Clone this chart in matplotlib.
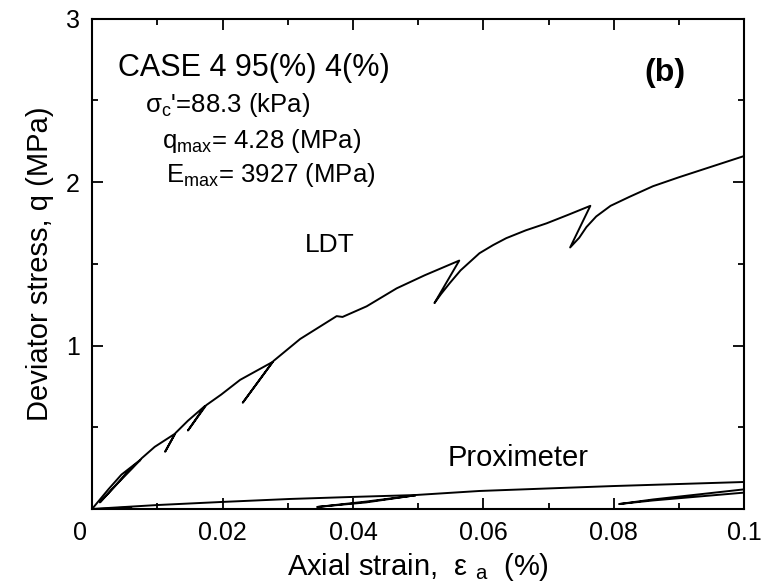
import matplotlib
matplotlib.use("Agg")
import matplotlib.pyplot as plt
import matplotlib.transforms as mtransforms
from matplotlib.ticker import MultipleLocator

plt.rcParams['font.family'] = ['Liberation Sans', 'DejaVu Sans']
plt.rcParams['mathtext.fontset'] = 'custom'
plt.rcParams['mathtext.rm'] = 'Liberation Sans'
plt.rcParams['mathtext.it'] = 'Liberation Sans'
plt.rcParams['mathtext.default'] = 'regular'

# LDT curve (strain %, q MPa) with unload/reload loops
ldt_x = [0, 0.0025, 0.0045, 0.0074, 0.0055, 0.0035, 0.0012, 0.0040, 0.0062, 0.0076,
         0.0096, 0.0127, 0.0112, 0.0128,
         0.0147, 0.0173, 0.0147, 0.0175,
         0.0198, 0.0227, 0.0277, 0.0231, 0.0278,
         0.0319, 0.0375, 0.0384, 0.0421, 0.0467, 0.0510, 0.0563, 0.0525,
         0.0535, 0.0548, 0.0565, 0.0594, 0.0615, 0.0635, 0.0665, 0.0697, 0.0730, 0.0764, 0.0733,
         0.0747, 0.0758, 0.0773, 0.0795, 0.0824, 0.0860, 0.0900, 0.0950, 0.1000]
ldt_y = [0, 0.12, 0.21, 0.30, 0.23, 0.14, 0.04, 0.16, 0.25, 0.31,
         0.38, 0.46, 0.35, 0.465,
         0.54, 0.63, 0.48, 0.635,
         0.70, 0.79, 0.90, 0.65, 0.905,
         1.04, 1.18, 1.175, 1.24, 1.35, 1.43, 1.52, 1.26,
         1.315, 1.38, 1.46, 1.565, 1.615, 1.657, 1.705, 1.748, 1.80, 1.855, 1.60,
         1.66, 1.725, 1.79, 1.855, 1.91, 1.975, 2.03, 2.095, 2.16]

# Proximeter curve
prox_x = [0, 0.010, 0.020, 0.0303, 0.0395, 0.0495, 0.0594, 0.0798, 0.1000]
prox_y = [0, 0.024, 0.043, 0.061, 0.073, 0.085, 0.110, 0.140, 0.165]
# proximeter unload/reload branches
prox_a_x = [0.0495, 0.0420, 0.0345, 0.0420, 0.0495]
prox_a_y = [0.083, 0.045, 0.012, 0.040, 0.083]
prox_b_x = [0.1000, 0.0860, 0.0808, 0.0860, 0.1000]
prox_b_y = [0.100, 0.052, 0.030, 0.058, 0.120]
prox_c_x = [0.0010, 0.0060]
prox_c_y = [0.000, 0.010]

fig = plt.figure(figsize=(7.61, 5.85), dpi=100)
ax = fig.add_axes([0.121, 0.130, 0.857, 0.838])

lw = 1.4
ax.plot(ldt_x, ldt_y, color='black', lw=lw)
ax.plot(prox_x, prox_y, color='black', lw=lw)
ax.plot(prox_a_x, prox_a_y, color='black', lw=lw)
ax.plot(prox_b_x, prox_b_y, color='black', lw=lw)
ax.plot(prox_c_x, prox_c_y, color='black', lw=lw)

ax.set_xlim(0, 0.1)
ax.set_ylim(0, 3)
ax.xaxis.set_minor_locator(MultipleLocator(0.01))
ax.yaxis.set_minor_locator(MultipleLocator(0.5))
ax.set_xticks([0, 0.02, 0.04, 0.06, 0.08, 0.1])
ax.set_xticklabels(['0', '0.02', '0.04', '0.06', '0.08', '0.1'])
ax.set_yticks([1, 2, 3])
ax.set_yticklabels(['1', '2', '3'])
ax.tick_params(which='both', direction='in', top=True, right=True, width=1.3, labelsize=18)
ax.tick_params(which='major', length=8, pad=9)
ax.tick_params(which='minor', length=4.5)
for s in ax.spines.values():
    s.set_linewidth(1.5)

# the "0" sits a little left of the corner
shift = mtransforms.ScaledTranslation(-12 / 100, 0, fig.dpi_scale_trans)
zero_lbl = ax.get_xticklabels()[0]
zero_lbl.set_transform(zero_lbl.get_transform() + shift)

ax.set_xlabel('Axial strain,  ε $_{a}$  (%)', fontsize=21, labelpad=4)
ax.set_ylabel('Deviator stress, q (MPa)', fontsize=21, labelpad=8)

ax.text(0.004, 2.65, 'CASE 4 95(%) 4(%)', fontsize=22, ha='left', va='baseline')
ax.text(0.0081, 2.43, "σ$_{c}$'=88.3 (kPa)", fontsize=18.5, ha='left', va='baseline')
ax.text(0.0107, 2.21, 'q$_{max}$= 4.28 (MPa)', fontsize=18.5, ha='left', va='baseline')
ax.text(0.0113, 2.00, 'E$_{max}$= 3927 (MPa)', fontsize=18.5, ha='left', va='baseline')
ax.text(0.0847, 2.62, '(b)', fontsize=23, fontweight='bold', ha='left', va='baseline')
ax.text(0.0326, 1.57, 'LDT', fontsize=19, ha='left', va='baseline')
ax.text(0.0545, 0.262, 'Proximeter', fontsize=21, ha='left', va='baseline')

fig.savefig('out.png', dpi=100)
